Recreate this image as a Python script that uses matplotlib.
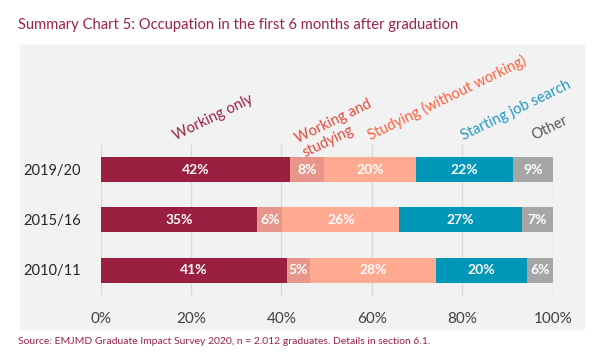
import matplotlib.pyplot as plt
from matplotlib.patches import Rectangle

# Data
years = ["2019/20", "2015/16", "2010/11"]
categories = ["Working only", "Working and\nstudying", "Studying (without working)",
              "Starting job search", "Other"]
working_only = [41.9, 34.6, 41.3]
working_studying = [7.5, 5.6, 5.0]
studying = [20.3, 25.9, 27.8]
job_search = [21.6, 27.0, 20.2]
other = [8.7, 6.9, 5.7]
shown = [
    [42, 35, 41],
    [8, 6, 5],
    [20, 26, 28],
    [22, 27, 20],
    [9, 7, 6],
]
xticks = [0, 20, 40, 60, 80, 100]

series = [working_only, working_studying, studying, job_search, other]
colors = ["#9B1F40", "#E6968A", "#FFAA91", "#0097B8", "#A6A6A6"]
text_colors = ["#9B1F40", "#E5493C", "#FF5F3A", "#2398C2", "#595959"]
# where the rotated labels start
label_x = [16.5, 45.0, 59.8, 80.4, 96.0]
label_y = [-0.6, -0.28, -0.6, -0.6, -0.6]

plt.rcParams['font.family'] = ['Lato', 'DejaVu Sans']

fig = plt.figure(figsize=(6.01, 3.54), dpi=100)
fig.patches.append(Rectangle((20 / 601, 1 - 329 / 354), 564 / 601, 284 / 354,
                             transform=fig.transFigure, color="#F2F2F2", zorder=-10))

ax = fig.add_axes([100.6 / 601, 1 - 297 / 354, 452.1 / 601, 152 / 354])
ax.set_facecolor("none")

ypos = list(range(len(years)))
left = [0.0] * len(years)
for i, vals in enumerate(series):
    ax.barh(ypos, vals, left=left, height=0.5, color=colors[i], zorder=2)
    for j, v in enumerate(vals):
        ax.text(left[j] + v / 2, ypos[j], f"{shown[i][j]}%", ha="center", va="center",
                color="white", fontsize=10, fontweight="bold", zorder=3)
    left = [l + v for l, v in zip(left, vals)]

ax.set_xlim(0, 100)
ax.set_ylim(2.54, -0.5)
ax.set_xticks(xticks)
ax.set_xticklabels([f"{t}%" for t in xticks], fontsize=11, color="#404040")
ax.set_yticks(ypos)
ax.set_yticklabels(years, fontsize=10.5, color="#262626")
ax.tick_params(length=0)
ax.tick_params(axis="x", pad=11)
ax.tick_params(axis="y", pad=14)
ax.grid(axis="x", color="#D9D9D9", linewidth=1, zorder=1)
for s in ax.spines.values():
    s.set_visible(False)

for i, name in enumerate(categories):
    ax.text(label_x[i], label_y[i], name, rotation=26, rotation_mode="anchor",
            ha="left", va="baseline", color=text_colors[i], fontsize=10.5,
            multialignment="left", linespacing=1.15, clip_on=False)

fig.text(18 / 601, 1 - 25 / 354, "Summary Chart 5: Occupation in the first 6 months after graduation",
         color="#9B2242", fontsize=10.6, va="center", ha="left")
fig.text(18 / 601, 1 - 341 / 354,
         "Source: EMJMD Graduate Impact Survey 2020, n = 2.012 graduates. Details in section 6.1.",
         color="#9B2242", fontsize=7.5, va="center", ha="left")

fig.savefig("out.png", dpi=100)
